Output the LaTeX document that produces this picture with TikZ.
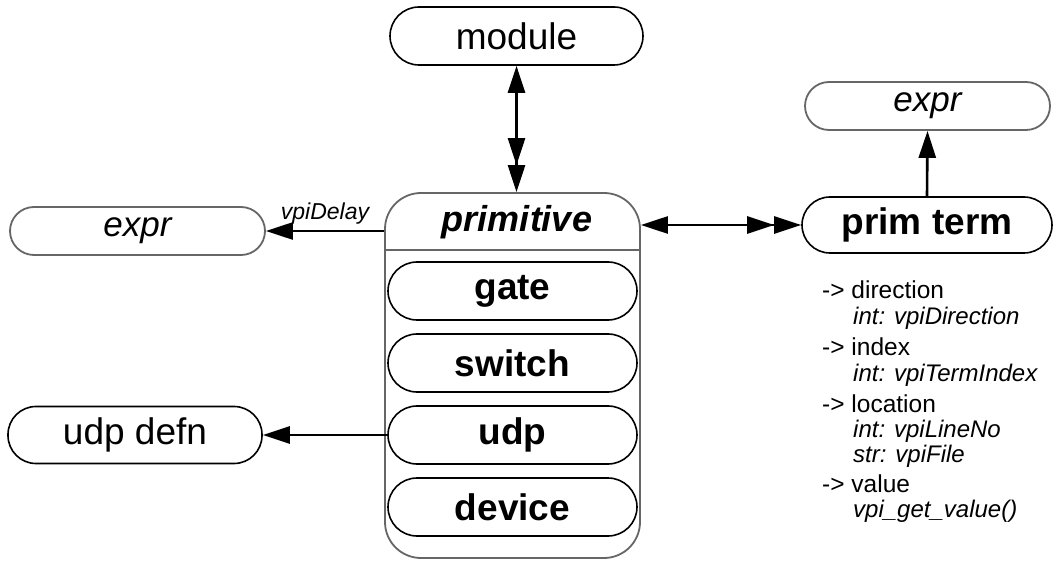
\documentclass[tikz,border=0pt]{standalone}
\usepackage{fontspec}
\setmainfont{Liberation Sans}
\usetikzlibrary{arrows.meta}
\tikzset{
  pill/.style={draw=black, line width=1.6pt, fill=white, rounded corners=#1, inner sep=0pt},
  ghost/.style={draw=black!60, line width=1.8pt, fill=white, rounded corners=#1, inner sep=0pt},
  bigtxt/.style={font=\fontsize{37}{40}\selectfont},
  boldtxt/.style={font=\fontsize{37}{40}\selectfont\bfseries},
  listtxt/.style={font=\fontsize{24.5}{28}\selectfont, anchor=west, inner sep=0pt},
  sublist/.style={font=\fontsize{24}{28}\selectfont\itshape, anchor=west, inner sep=0pt},
  conn/.style={line width=2.6pt},
  onehead/.style={-{Triangle[length=27pt,width=17pt]}},
  twoway/.style={{Triangle[length=27pt,width=17pt]}-{Triangle[length=27pt,width=17pt] Triangle[length=27pt,width=17pt]}},
}
\begin{document}
\begin{tikzpicture}[x=1pt,y=-1pt]
\useasboundingbox (0,0) rectangle (1058,561);
% module
\node[pill=29pt, minimum width=253pt, minimum height=58pt, bigtxt] (module) at (516.5,36) {module};
% primitive container
\node[ghost=36pt, minimum width=255pt, minimum height=365pt] (prim) at (512.5,375.5) {};
\coordinate (sepL) at (385,250);
\coordinate (sepR) at (640,250);
\draw[draw=black!60, line width=1.8pt] (sepL) -- (sepR);
\node[font=\fontsize{36}{40}\selectfont\bfseries\itshape] (primlbl) at (517,222) {primitive};
% sub boxes
\node[pill=29pt, minimum width=249pt, minimum height=58pt, boldtxt] (gate) at (512.5,291) {gate};
\node[pill=29pt, minimum width=249pt, minimum height=58pt, boldtxt] (switch) at (512.5,363) {switch};
\node[pill=29pt, minimum width=249pt, minimum height=58pt, boldtxt] (udp) at (512.5,435) {udp};
\node[pill=29pt, minimum width=249pt, minimum height=58pt, boldtxt] (device) at (512.5,507) {device};
% others
\node[ghost=24pt, minimum width=255pt, minimum height=48pt, font=\fontsize{35}{40}\selectfont\itshape] (exprL) at (137.5,231) {expr};
\node[ghost=24pt, minimum width=245pt, minimum height=48pt, font=\fontsize{35}{40}\selectfont\itshape] (exprR) at (927.5,106) {expr};
\node[pill=28pt, minimum width=250pt, minimum height=56pt, boldtxt] (primterm) at (927,225) {prim term};
\node[pill=28pt, minimum width=254pt, minimum height=57pt, bigtxt] (udpdefn) at (135,435) {udp defn};
% connectors
\draw[conn, twoway] (module.south) -- (module.south |- prim.north);
\draw[conn, twoway] (prim.east |- primterm.west) -- (primterm.west);
\draw[conn, onehead] (prim.west |- exprL.east) -- node[above=2pt, font=\fontsize{23}{28}\selectfont\itshape] (dlbl) {vpiDelay} (exprL.east);
\draw[conn, onehead] (udp.west) -- (udpdefn.east);
\draw[conn, onehead] (primterm.north) -- (exprR.south);
% property list
\node[listtxt] (l1) at (822,290) {-> direction};
\node[sublist] (l1a) at (853,318) {int: vpiDirection};
\node[listtxt] (l2) at (822,347) {-> index};
\node[sublist] (l2a) at (853,375) {int: vpiTermIndex};
\node[listtxt] (l3) at (822,404) {-> location};
\node[sublist] (l3a) at (853,431) {int: vpiLineNo};
\node[sublist] (l3b) at (853,456) {str: vpiFile};
\node[listtxt] (l4) at (822,484) {-> value};
\node[sublist] (l4a) at (853,511) {vpi\_get\_value()};
\end{tikzpicture}
\end{document}
